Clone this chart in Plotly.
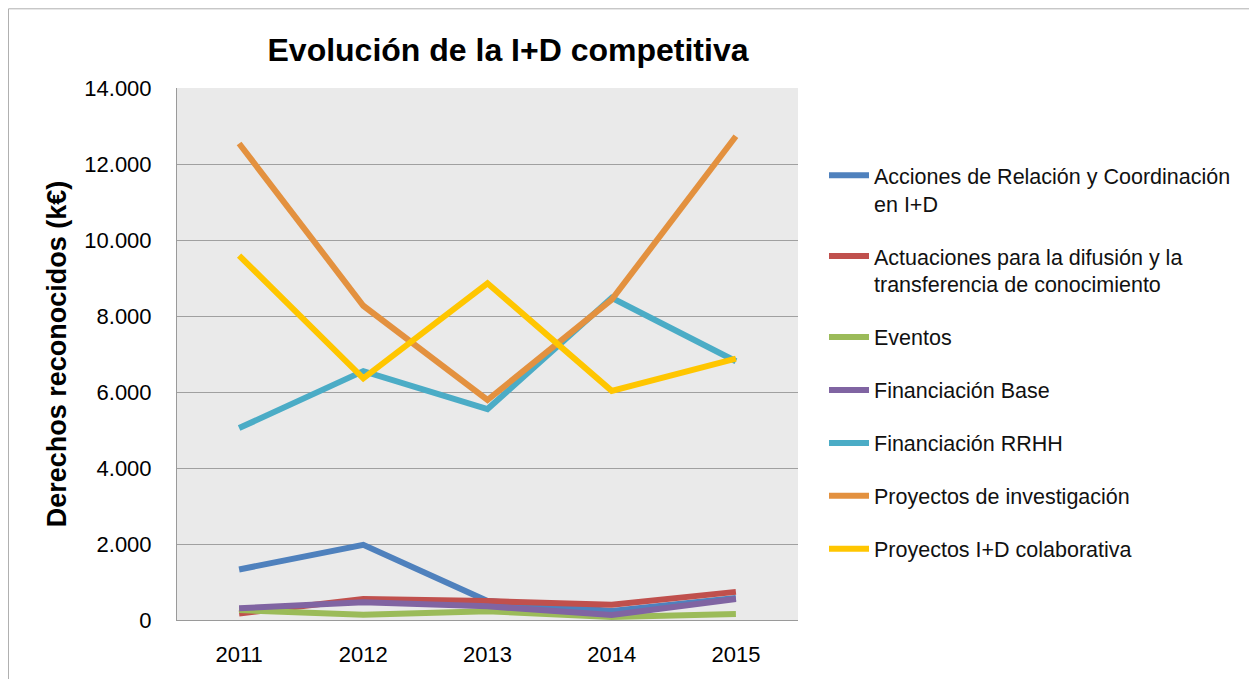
import plotly.graph_objects as go

years = ["2011", "2012", "2013", "2014", "2015"]

acciones = [1330, 1980, 500, 240, 580]
actuaciones = [170, 550, 500, 400, 740]
eventos = [260, 140, 230, 80, 160]
fin_base = [310, 470, 360, 130, 550]
fin_rrhh = [5050, 6550, 5550, 8480, 6810]
proyectos_inv = [12540, 8270, 5790, 8430, 12730]
proyectos_colab = [9590, 6360, 8860, 6030, 6880]

series = [
    ("Acciones de Relación y Coordinación<br>en I+D", acciones, "#4f81bd"),
    ("Actuaciones para la difusión y la<br>transferencia de conocimiento", actuaciones, "#c0504d"),
    ("Eventos", eventos, "#9bbb59"),
    ("Financiación Base", fin_base, "#8064a2"),
    ("Financiación RRHH", fin_rrhh, "#4bacc6"),
    ("Proyectos de investigación", proyectos_inv, "#e3913f"),
    ("Proyectos I+D colaborativa", proyectos_colab, "#ffc600"),
]

FONT = "Arial, Liberation Sans, sans-serif"

fig = go.Figure()
for i, (name, vals, color) in enumerate(series):
    fig.add_trace(go.Scatter(x=years, y=vals, mode="lines", name=name,
                             legendgroup=str(i),
                             line=dict(color=color, width=6)))

# page has 8px body margin: figure coords = page - 8
# plot area in figure px: 169..790 x 80..614
W, H = 1249, 671
L, R, T, B = 169, 790, 80, 614
PW, PH = R - L, B - T

fig.update_layout(
    width=W, height=H,
    margin=dict(l=L, r=W - R, t=T, b=H - B),
    paper_bgcolor="white", plot_bgcolor="#eaeaea",
    separators=",.",
    font=dict(family=FONT, color="black"),
    title=dict(text="<b>Evolución de la I+D competitiva</b>",
               font=dict(size=32, family=FONT, color="black"),
               xref="paper", x=(500 - L) / PW, xanchor="center",
               yref="container", y=1 - 42 / H, yanchor="middle"),
    xaxis=dict(type="category", range=[-0.5, len(years) - 0.5],
               showgrid=False, showline=True,
               linecolor="#9a9a9a", linewidth=1,
               ticks="outside", ticklen=15, tickcolor="rgba(0,0,0,0)",
               tickfont=dict(size=22), zeroline=False),
    yaxis=dict(range=[0, 14000], dtick=2000, tickformat=",d",
               showgrid=True, gridcolor="#a0a0a0", gridwidth=1,
               showline=True, linecolor="#9a9a9a", linewidth=1,
               ticks="outside", ticklen=20, tickcolor="rgba(0,0,0,0)",
               tickfont=dict(size=22), zeroline=False,
               title=dict(text="<b>Derechos reconocidos (k€)</b>",
                          font=dict(size=27), standoff=9)),
    legend=dict(x=(816 - L) / PW, xanchor="left",
                y=(B - 147) / PH, yanchor="top",
                font=dict(size=21.5, family=FONT, color="#111"),
                traceorder="grouped", tracegroupgap=22,
                valign="top", itemwidth=40,
                bgcolor="rgba(0,0,0,0)"),
    shapes=[dict(type="rect", xref="paper", yref="paper",
                 x0=(0.5 - L) / PW, x1=(1248 - L) / PW,
                 y0=(B - 700) / PH, y1=(B - 0.5) / PH,
                 line=dict(color="#b0b0b0", width=1), layer="below")],
)

fig.write_html("out.html")
